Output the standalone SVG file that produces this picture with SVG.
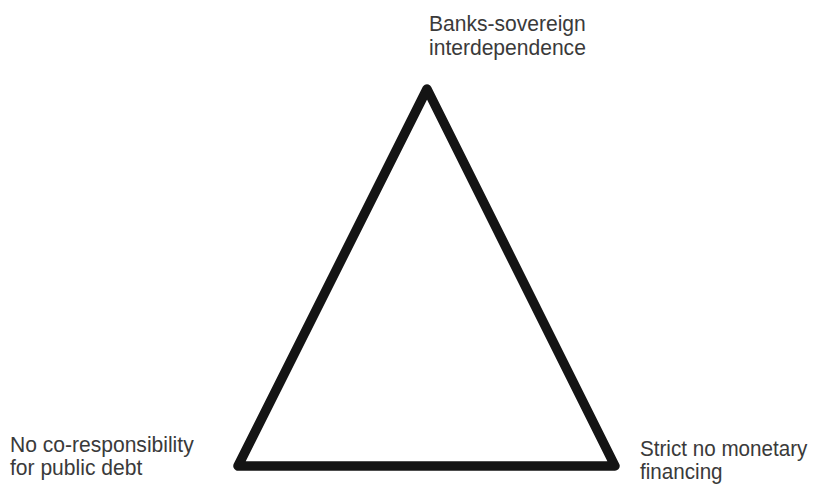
<svg xmlns="http://www.w3.org/2000/svg" width="814" height="484" viewBox="0 0 814 484">
<style>
.lbl{font-family:"Liberation Sans",Arial,sans-serif;font-size:21.5px;fill:#3a3a3a}
.edge{fill:none;stroke:#141414;stroke-width:9.5;stroke-linejoin:round;stroke-linecap:round}
</style>
<rect width="814" height="484" fill="#fff"/>
<g id="connectors">
<polygon class="edge" points="427,89 238,466 615,466"/>
</g>
<g id="node-top" transform="translate(429,0) scale(0.98,1)"><text class="lbl" x="0" y="31">Banks-sovereign</text><text class="lbl" x="0" y="55">interdependence</text></g>
<g id="node-left" transform="translate(10,0) scale(0.98,1)"><text class="lbl" x="0" y="452">No co-responsibility</text><text class="lbl" x="0" y="475">for public debt</text></g>
<g id="node-right" transform="translate(640,0) scale(0.96,1)"><text class="lbl" x="0" y="456">Strict no monetary</text><text class="lbl" x="0" y="479">financing</text></g>
</svg>
